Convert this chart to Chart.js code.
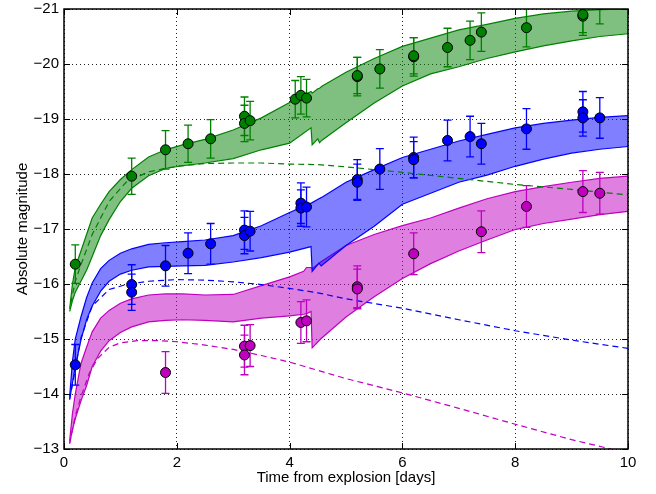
<!DOCTYPE html>
<html>
<head>
<meta charset="utf-8">
<script src="https://cdn.jsdelivr.net/npm/chart.js@4.4.1/dist/chart.umd.min.js"></script>
<style>
html,body{margin:0;padding:0;background:#fff;}
#wrap{width:656px;height:494px;}
</style>
</head>
<body>
<div id="wrap"><canvas id="c" width="656" height="494"></canvas></div>
<script>
// ---- Observed photometry (time in days, absolute magnitude, error) ----
const greenT = [0.2,1.2,1.8,2.2,2.6,3.2,3.2,3.3,4.1,4.2,4.3,5.2,5.2,5.6,6.2,6.2,6.8,7.2,7.4,8.2,9.2,9.2,9.5];
const greenM = [-16.36,-17.96,-18.44,-18.55,-18.64,-19.05,-18.92,-18.97,-19.36,-19.43,-19.38,-19.77,-19.79,-19.91,-20.13,-20.15,-20.30,-20.43,-20.58,-20.66,-20.87,-20.90,-21.08];
const greenE = [0.35,0.33,0.35,0.34,0.35,0.35,0.33,0.35,0.34,0.34,0.34,0.35,0.33,0.35,0.35,0.33,0.35,0.35,0.35,0.35,0.35,0.33,0.35];

const blueT = [0.2,1.2,1.2,1.8,2.2,2.6,3.2,3.2,3.3,4.2,4.2,4.3,5.2,5.2,5.6,6.2,6.2,6.8,7.2,7.4,8.2,9.2,9.2,9.5];
const blueM = [-14.53,-15.99,-15.85,-16.33,-16.56,-16.73,-16.98,-16.88,-16.96,-17.47,-17.38,-17.40,-17.90,-17.85,-18.09,-18.30,-18.26,-18.61,-18.68,-18.55,-18.82,-19.13,-19.02,-19.02];
const blueE = [0.37,0.36,0.33,0.37,0.37,0.37,0.35,0.33,0.36,0.37,0.33,0.36,0.36,0.33,0.37,0.37,0.33,0.37,0.37,0.37,0.37,0.37,0.33,0.37];

const magT = [1.8,3.2,3.2,3.3,4.2,4.3,5.2,5.2,6.2,7.4,8.2,9.2,9.5];
const magM = [-14.39,-14.87,-14.71,-14.88,-15.30,-15.33,-15.95,-15.91,-16.55,-16.95,-17.41,-17.68,-17.65];
const magE = [0.38,0.38,0.36,0.38,0.38,0.38,0.38,0.36,0.38,0.38,0.38,0.38,0.38];

// ---- Model bands (upper = brighter edge, lower = fainter edge) ----
const greenBandT = [0.1,0.15,0.2,0.3,0.4,0.5,0.65,0.8,1.0,1.2,1.5,1.8,2.1,2.5,3.0,3.5,4.0,4.38,4.40,4.50,4.53,4.58,5.0,5.5,6.0,6.5,7.0,7.5,8.0,8.5,9.0,9.5,10.0];
const greenUpper = [-15.55,-16.0,-16.3,-16.6,-16.9,-17.2,-17.45,-17.68,-17.9,-18.08,-18.31,-18.44,-18.53,-18.63,-18.8,-19.02,-19.3,-19.5,-19.47,-19.55,-19.56,-19.6,-19.85,-20.1,-20.32,-20.47,-20.62,-20.72,-20.83,-20.91,-20.96,-20.99,-21.0];
const greenLower = [-15.5,-15.7,-15.85,-16.05,-16.25,-16.5,-16.88,-17.17,-17.5,-17.74,-17.97,-18.1,-18.15,-18.2,-18.28,-18.44,-18.56,-18.84,-18.53,-18.64,-18.57,-18.62,-18.93,-19.29,-19.6,-19.82,-19.95,-20.1,-20.22,-20.33,-20.42,-20.5,-20.55];

const blueBandT = [0.1,0.15,0.2,0.3,0.4,0.5,0.65,0.8,1.0,1.2,1.5,1.8,2.1,2.5,3.0,3.5,4.0,4.38,4.40,4.52,4.56,5.0,5.5,6.0,6.5,7.0,7.5,8.0,8.5,9.0,9.5,10.0];
const blueUpper = [-13.95,-14.6,-15.0,-15.4,-15.75,-16.02,-16.28,-16.43,-16.56,-16.64,-16.72,-16.75,-16.77,-16.8,-16.88,-17.06,-17.3,-17.47,-17.48,-17.55,-17.57,-17.85,-18.08,-18.3,-18.45,-18.6,-18.72,-18.84,-18.92,-18.98,-19.03,-19.06];
const blueLower = [-13.9,-14.2,-14.5,-14.98,-15.35,-15.6,-15.87,-16.05,-16.18,-16.25,-16.31,-16.32,-16.33,-16.34,-16.4,-16.48,-16.58,-16.68,-16.23,-16.38,-16.33,-16.7,-17.05,-17.45,-17.65,-17.85,-17.98,-18.14,-18.27,-18.38,-18.45,-18.5];

const magBandT = [0.1,0.15,0.2,0.3,0.4,0.5,0.65,0.8,1.0,1.2,1.5,1.8,2.1,2.5,3.0,3.5,4.0,4.25,4.30,4.38,4.40,4.55,5.0,5.5,6.0,6.5,7.0,7.5,8.0,8.5,9.0,9.5,10.0];
const magUpper = [-13.15,-13.65,-14.0,-14.55,-14.85,-15.13,-15.38,-15.52,-15.65,-15.73,-15.8,-15.82,-15.82,-15.8,-15.81,-15.97,-16.13,-16.23,-16.3,-16.3,-16.28,-16.4,-16.7,-16.9,-17.06,-17.2,-17.38,-17.55,-17.68,-17.77,-17.85,-17.92,-17.96];
const magLower = [-13.1,-13.35,-13.55,-13.87,-14.15,-14.5,-14.78,-14.97,-15.12,-15.22,-15.31,-15.34,-15.35,-15.34,-15.31,-15.38,-15.42,-15.45,-15.46,-15.5,-14.84,-15.0,-15.4,-15.77,-16.1,-16.37,-16.6,-16.8,-16.99,-17.1,-17.18,-17.26,-17.32];

// ---- Dashed component curves ----
const greenDashT = [0.12,0.2,0.3,0.5,0.8,1.1,1.5,2.0,2.5,3.0,3.5,4.0,4.5,5.0,6.0,7.0,8.0,9.0,10.0];
const greenDashM = [-15.65,-16.05,-16.35,-16.9,-17.5,-17.85,-18.04,-18.14,-18.19,-18.2,-18.2,-18.18,-18.17,-18.13,-18.03,-17.92,-17.81,-17.72,-17.62];
const blueDashT = [0.1,0.2,0.3,0.5,0.8,1.1,1.5,2.0,2.5,3.0,3.5,4.0,4.5,5.0,6.0,7.0,8.0,9.0,10.0];
const blueDashM = [-13.9,-14.45,-15.02,-15.6,-15.9,-15.99,-16.05,-16.08,-16.07,-16.04,-15.99,-15.92,-15.84,-15.73,-15.56,-15.35,-15.15,-14.98,-14.83];
const magDashT = [0.1,0.2,0.3,0.45,0.6,0.8,1.0,1.3,1.7,2.0,2.5,3.0,3.5,4.0,4.5,5.0,6.0,7.0,8.0,9.0,9.7];
const magDashM = [-13.1,-13.6,-13.95,-14.38,-14.65,-14.85,-14.93,-14.97,-14.97,-14.95,-14.89,-14.81,-14.7,-14.58,-14.43,-14.28,-14.02,-13.74,-13.45,-13.17,-13.0];

const xTicks = [0,2,4,6,8,10];
const yTicks = [-21,-20,-19,-18,-17,-16,-15,-14,-13];

const GREEN = '#008000', BLUE = '#0000ff', MAG = '#bf00bf';
const pts = (T, M) => T.map((t, i) => ({x: t, y: M[i]}));

function pointSet(T, M, E, color) {
  return {type: 'line', data: pts(T, M), errors: E, errColor: color, showLine: false,
    pointRadius: 5, pointHoverRadius: 5, pointBackgroundColor: color, pointBorderColor: '#000',
    pointBorderWidth: 1, borderColor: color};
}
function edgeSet(T, M, color, fill, fillColor) {
  return {type: 'line', data: pts(T, M), borderColor: color, borderWidth: 1.2, pointRadius: 0,
    tension: 0, fill: fill, backgroundColor: fillColor};
}
function dashSet(T, M, color) {
  return {type: 'line', data: pts(T, M), borderColor: color, borderWidth: 1.2, pointRadius: 0,
    borderDash: [6, 4], tension: 0, fill: false};
}

// dataset index: lower index drawn on top
const datasets = [
  pointSet(greenT, greenM, greenE, GREEN),   //0
  pointSet(blueT, blueM, blueE, BLUE),       //1
  pointSet(magT, magM, magE, MAG),           //2
  dashSet(greenDashT, greenDashM, GREEN),    //3
  dashSet(blueDashT, blueDashM, BLUE),       //4
  dashSet(magDashT, magDashM, MAG),          //5
  edgeSet(greenBandT, greenUpper, GREEN, false), //6
  edgeSet(greenBandT, greenLower, GREEN, {target: 6}, 'rgba(0,128,0,0.5)'), //7
  edgeSet(blueBandT, blueUpper, BLUE, false), //8
  edgeSet(blueBandT, blueLower, BLUE, {target: 8}, 'rgba(0,0,255,0.5)'), //9
  edgeSet(magBandT, magUpper, MAG, false), //10
  edgeSet(magBandT, magLower, MAG, {target: 10}, 'rgba(191,0,191,0.5)') //11
];

const errorBars = {
  id: 'errorBars',
  beforeDatasetDraw(chart, args) {
    const ds = chart.data.datasets[args.index];
    if (!ds.errors) return;
    const {ctx, chartArea: a, scales: {x, y}} = chart;
    ctx.save();
    ctx.beginPath(); ctx.rect(a.left, a.top, a.right - a.left, a.bottom - a.top); ctx.clip();
    ctx.strokeStyle = ds.errColor; ctx.lineWidth = 1.3;
    ds.data.forEach((p, i) => {
      const e = ds.errors[i];
      const px = x.getPixelForValue(p.x);
      const y1 = y.getPixelForValue(p.y - e), y2 = y.getPixelForValue(p.y + e);
      ctx.beginPath();
      ctx.moveTo(px, y1); ctx.lineTo(px, y2);
      ctx.moveTo(px - 4, y1); ctx.lineTo(px + 4, y1);
      ctx.moveTo(px - 4, y2); ctx.lineTo(px + 4, y2);
      ctx.stroke();
    });
    ctx.restore();
  }
};

const frame = {
  id: 'frame',
  afterDraw(chart) {
    const {ctx, chartArea: a, scales: {x, y}} = chart;
    ctx.save();
    ctx.strokeStyle = '#000'; ctx.lineWidth = 1;
    const L = 6;
    ctx.beginPath();
    xTicks.forEach(v => {
      const px = Math.round(x.getPixelForValue(v)) + 0.5;
      ctx.moveTo(px, a.bottom); ctx.lineTo(px, a.bottom - L);
      ctx.moveTo(px, a.top); ctx.lineTo(px, a.top + L);
    });
    yTicks.forEach(v => {
      const py = Math.round(y.getPixelForValue(v)) + 0.5;
      ctx.moveTo(a.left, py); ctx.lineTo(a.left + L, py);
      ctx.moveTo(a.right, py); ctx.lineTo(a.right - L, py);
    });
    ctx.stroke();
    ctx.lineWidth = 1.5;
    ctx.strokeRect(a.left, a.top, a.right - a.left, a.bottom - a.top);
    ctx.restore();
  }
};

Chart.defaults.font.family = '"Liberation Sans", Arial, sans-serif';
Chart.defaults.color = '#000';

new Chart(document.getElementById('c'), {
  type: 'line',
  data: {datasets},
  options: {
    responsive: false,
    animation: false,
    devicePixelRatio: 1,
    layout: {padding: {left: 0, right: 28, top: 9, bottom: 0}},
    plugins: {legend: {display: false}, tooltip: {enabled: false}},
    scales: {
      x: {
        type: 'linear', min: 0, max: 10,
        afterFit: s => { s.height = 45; s.paddingLeft = 0; s.paddingRight = 0; s.paddingTop = 0; s.paddingBottom = 0; },
        afterBuildTicks: s => { s.ticks = xTicks.map(v => ({value: v})); },
        ticks: {font: {size: 15}, padding: 5, maxRotation: 0, callback: v => String(v)},
        grid: {color: '#222', lineWidth: 1, borderDash: [1, 3], drawTicks: false},
        border: {display: false, dash: [1, 3]},
        title: {display: true, text: 'Time from explosion [days]', font: {size: 15}, padding: {top: 0, bottom: 7}}
      },
      y: {
        type: 'linear', min: -21, max: -13, reverse: true,
        afterFit: s => { s.width = 64; s.paddingLeft = 0; s.paddingRight = 0; s.paddingTop = 0; s.paddingBottom = 0; },
        afterBuildTicks: s => { s.ticks = yTicks.map(v => ({value: v})); },
        ticks: {font: {size: 15}, padding: 5, callback: v => '\u2212' + Math.abs(v)},
        grid: {color: '#222', lineWidth: 1, drawTicks: false},
        border: {display: false, dash: [1, 3]},
        title: {display: true, text: 'Absolute magnitude', font: {size: 15}, padding: {top: 14, bottom: 0}}
      }
    }
  },
  plugins: [errorBars, frame]
});
</script>
</body>
</html>
